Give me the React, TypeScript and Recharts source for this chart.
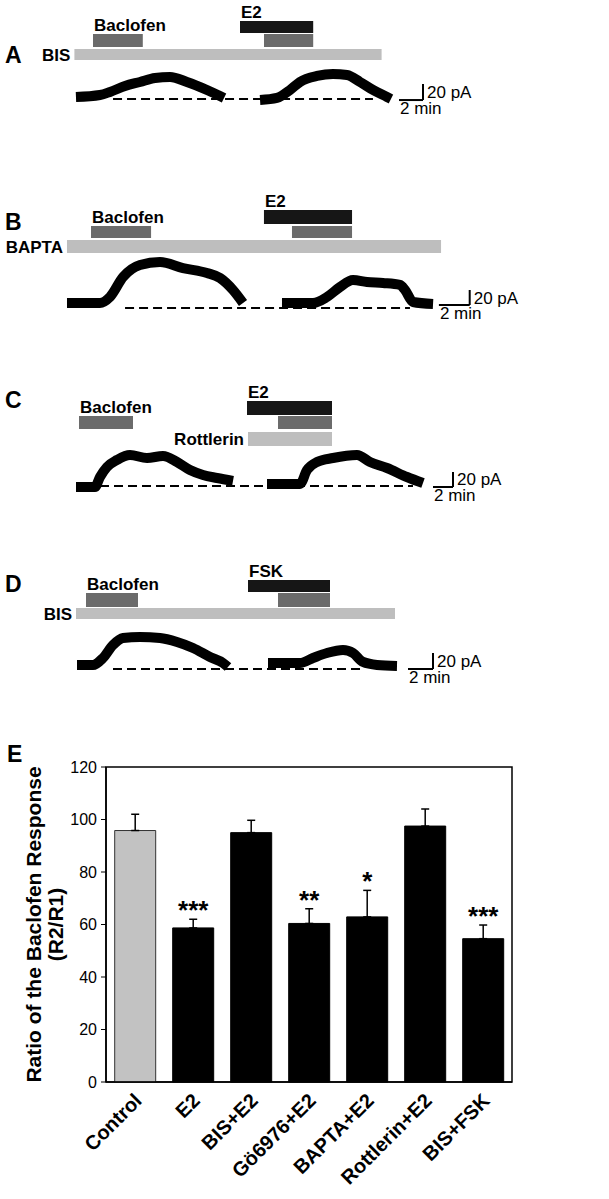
import React from 'react';
import {
  ComposedChart,
  Line,
  XAxis,
  YAxis,
  ReferenceArea,
  ReferenceLine,
  BarChart,
  Bar,
  Cell,
  ErrorBar,
  LabelList,
} from 'recharts';

const FONT = '"Liberation Sans", Arial, Helvetica, sans-serif';
const W = 609;

// ---- panel E: ratio of the baclofen response (R2/R1), mean + SEM ----
const groups = ['Control', 'E2', 'BIS+E2', 'Gö6976+E2', 'BAPTA+E2', 'Rottlerin+E2', 'BIS+FSK'];
const ratioMean = [95.8, 58.7, 95.0, 60.4, 62.9, 97.5, 54.6];
const ratioSem = [6.2, 3.3, 4.7, 5.6, 10.1, 6.5, 5.2];
const signif = ['', '***', '', '**', '*', '', '***'];
const ratioTicks = [0, 20, 40, 60, 80, 100, 120];

// ---- panels A-D: drug applications (min) and current traces [min, pA above baseline] ----
type Pair = [number, number];
type Drug = { name: string; start: number; end: number; row: number; tone: 'drug' | 'baclofen' | 'bath'; label: 'above' | 'left' | 'none' };

const drugsA: Drug[] = [
  { name: 'E2', start: 20.0, end: 26.1, row: 0, tone: 'drug', label: 'above' },
  { name: 'Baclofen', start: 7.75, end: 11.9, row: 1, tone: 'baclofen', label: 'above' },
  { name: 'Baclofen', start: 22.0, end: 26.1, row: 1, tone: 'baclofen', label: 'none' },
  { name: 'BIS', start: 6.2, end: 31.8, row: 2, tone: 'bath', label: 'left' },
];
const traceA1: Pair[] = [[6.33, 2.5], [8.33, 5], [9.17, 8.8], [10.42, 16.3], [11.67, 21.3], [12.92, 26.3], [14.17, 27.5], [15.58, 21.3], [17.25, 11.3], [18.33, 3.8], [18.67, 1.3]];
const traceA2: Pair[] = [[21.67, -1.3], [23.08, 1.3], [24.17, 11.3], [25.0, 21.3], [26.42, 28.8], [27.75, 31.3], [28.92, 30], [30.0, 21.3], [31.08, 11.3], [32.25, 2.5], [32.58, 0]];

const drugsB: Drug[] = [
  { name: 'E2', start: 17.14, end: 22.86, row: 0, tone: 'drug', label: 'above' },
  { name: 'Baclofen', start: 5.91, end: 9.81, row: 1, tone: 'baclofen', label: 'above' },
  { name: 'Baclofen', start: 18.96, end: 22.86, row: 1, tone: 'baclofen', label: 'none' },
  { name: 'BAPTA', start: 4.35, end: 28.64, row: 2, tone: 'bath', label: 'left' },
];
const traceB1: Pair[] = [[4.35, 6.7], [6.49, 6.7], [7.14, 14.7], [7.99, 41.3], [9.09, 57.3], [10.39, 61.3], [11.88, 53.3], [13.44, 46.7], [14.29, 40], [15.13, 24], [15.78, 6.7]];
const traceB2: Pair[] = [[18.31, 6.7], [20.32, 6.7], [21.23, 14.7], [22.08, 28], [22.92, 37.3], [23.83, 34.7], [24.87, 33.3], [25.97, 30.7], [26.3, 24], [26.82, 8], [28.12, 5.3]];

const drugsC: Drug[] = [
  { name: 'E2', start: 24.7, end: 33.2, row: 0, tone: 'drug', label: 'above' },
  { name: 'Baclofen', start: 7.9, end: 13.3, row: 1, tone: 'baclofen', label: 'above' },
  { name: 'Baclofen', start: 27.8, end: 33.2, row: 1, tone: 'baclofen', label: 'none' },
  { name: 'Rottlerin', start: 24.8, end: 33.2, row: 2, tone: 'bath', label: 'left' },
];
const traceC1: Pair[] = [[7.6, -1.3], [9.5, -1.3], [10.0, 12], [10.7, 25.3], [11.7, 34.7], [13.0, 41.3], [14.7, 37.3], [16.3, 40], [17.7, 32], [19.0, 21.3], [20.3, 14.7], [21.7, 10.7], [23.3, 6.7]];
const traceC2: Pair[] = [[26.7, 2.7], [30.0, 2.7], [30.7, 21.3], [31.7, 32], [33.3, 37.3], [35.7, 41.3], [37.0, 32], [38.7, 24], [40.7, 12], [42.3, 4]];

const drugsD: Drug[] = [
  { name: 'FSK', start: 19.84, end: 26.4, row: 0, tone: 'drug', label: 'above' },
  { name: 'Baclofen', start: 6.88, end: 11.04, row: 1, tone: 'baclofen', label: 'above' },
  { name: 'Baclofen', start: 22.24, end: 26.4, row: 1, tone: 'baclofen', label: 'none' },
  { name: 'BIS', start: 6.08, end: 31.6, row: 2, tone: 'bath', label: 'left' },
];
const traceD1: Pair[] = [[6.16, 5], [7.44, 5], [8.24, 13.8], [9.04, 30], [9.84, 38.8], [11.2, 40], [12.8, 38.8], [14.16, 33.8], [15.44, 26.3], [16.8, 15], [17.84, 7.5], [18.24, 2.5]];
const traceD2: Pair[] = [[21.44, 7.5], [24.0, 7.5], [25.04, 13.8], [26.16, 20], [27.44, 23.8], [28.24, 20], [29.04, 8.8], [30.16, 5], [31.76, 3.8]];

const SCALE_MIN = 2;
const SCALE_PA = 20;

const TONE = { drug: '#161616', baclofen: '#6b6b6b', bath: '#bebebe' };

type PanelCfg = {
  letter: string;
  top: number;
  height: number;
  baseY: number; // px of baseline inside the chart
  kx: number; // px per min
  ky: number; // px per pA
  rows: Pair[]; // px bands for drug rows
  drugs: Drug[];
  traces: Pair[][];
  dash: Pair;
  scaleAt: Pair;
  letterY: number;
};

const panels: PanelCfg[] = [
  { letter: 'A', top: 0, height: 125, baseY: 99, kx: 12, ky: 0.8, rows: [[21, 33], [34, 47], [49, 60]], drugs: drugsA, traces: [traceA1, traceA2], dash: [9.42, 31.08], scaleAt: [33.25, -1.3], letterY: 63 },
  { letter: 'B', top: 180, height: 150, baseY: 128, kx: 15.4, ky: 0.75, rows: [[30, 44], [46, 58], [60, 73]], drugs: drugsB, traces: [traceB1, traceB2], dash: [8.12, 26.62], scaleAt: [28.5, 4], letterY: 230 },
  { letter: 'C', top: 370, height: 140, baseY: 116, kx: 10, ky: 0.75, rows: [[31, 45], [46, 59], [62, 76]], drugs: drugsC, traces: [traceC1, traceC2], dash: [10.0, 41.3], scaleAt: [43.3, -1.3], letterY: 408 },
  { letter: 'D', top: 550, height: 145, baseY: 119, kx: 12.5, ky: 0.8, rows: [[30, 42], [43, 57], [58, 69]], drugs: drugsD, traces: [traceD1, traceD2], dash: [9.04, 29.04], scaleAt: [32.64, 0], letterY: 592 },
];

const DrugLabel = (props: any) => {
  const { viewBox, text, side } = props;
  if (!viewBox) return null;
  const { x, y, height } = viewBox;
  const common = { fontFamily: FONT, fontWeight: 'bold' as const, fontSize: 17, fill: '#000' };
  if (side === 'left') {
    return <text x={x - 4} y={y + height / 2 + 6} textAnchor="end" {...common}>{text}</text>;
  }
  return <text x={x + 1} y={y - 3} textAnchor="start" {...common}>{text}</text>;
};

const ScaleText = (props: any) => {
  const { viewBox, text, kind } = props;
  if (!viewBox) return null;
  const { x, y, height } = viewBox;
  const common = { fontFamily: FONT, fontSize: 17, fill: '#000' };
  if (kind === 'v') {
    return <text x={x + 4} y={y + height / 2 + 6} {...common}>{text}</text>;
  }
  return <text x={x + 1} y={y + 14} {...common}>{text}</text>;
};

const TracePanel = ({ cfg }: { cfg: PanelCfg }) => {
  const { top, height, baseY, kx, ky, rows, scaleAt } = cfg;
  const [sx, sy] = scaleAt;
  return (
    <div style={{ position: 'absolute', left: 0, top }}>
      <ComposedChart width={W} height={height} margin={{ top: 0, right: 0, bottom: 0, left: 0 }}>
        <XAxis type="number" dataKey="t" domain={[0, W / kx]} hide allowDataOverflow />
        <YAxis yAxisId="pA" type="number" domain={[-(height - baseY) / ky, baseY / ky]} hide allowDataOverflow />
        <YAxis yAxisId="row" type="number" domain={[0, height]} reversed hide allowDataOverflow />
        {cfg.drugs.map((d, i) => (
          <ReferenceArea
            key={`d${i}`}
            yAxisId="row"
            x1={d.start}
            x2={d.end}
            y1={rows[d.row][0]}
            y2={rows[d.row][1]}
            fill={TONE[d.tone]}
            fillOpacity={1}
            stroke="none"
            label={d.label === 'none' ? undefined : (p: any) => <DrugLabel {...p} text={d.name} side={d.label} />}
          />
        ))}
        <ReferenceLine
          yAxisId="pA"
          segment={[{ x: cfg.dash[0], y: 0 }, { x: cfg.dash[1], y: 0 }]}
          stroke="#000"
          strokeWidth={2}
          strokeDasharray="9 5"
        />
        {cfg.traces.map((tr, i) => (
          <Line
            key={`t${i}`}
            yAxisId="pA"
            data={tr.map(([t, v]) => ({ t, v }))}
            dataKey="v"
            type="monotone"
            stroke="#000"
            strokeWidth={10}
            dot={false}
            activeDot={false}
            isAnimationActive={false}
          />
        ))}
        <ReferenceLine
          yAxisId="pA"
          segment={[{ x: sx, y: sy }, { x: sx + SCALE_MIN, y: sy }]}
          stroke="#000"
          strokeWidth={2}
          label={(p: any) => <ScaleText {...p} text={`${SCALE_MIN} min`} kind="h" />}
        />
        <ReferenceLine
          yAxisId="pA"
          segment={[{ x: sx + SCALE_MIN, y: sy }, { x: sx + SCALE_MIN, y: sy + SCALE_PA }]}
          stroke="#000"
          strokeWidth={2}
          label={(p: any) => <ScaleText {...p} text={`${SCALE_PA} pA`} kind="v" />}
        />
      </ComposedChart>
    </div>
  );
};

const GroupTick = (props: any) => {
  const { x, y, payload } = props;
  const ax = x + 8;
  const ay = y + 12;
  return (
    <text x={ax} y={ay} transform={`rotate(-45 ${ax} ${ay})`} textAnchor="end" fontFamily={FONT} fontWeight="bold" fontSize={20} fill="#000">
      {payload.value}
    </text>
  );
};

const YTitle = (props: any) => {
  const vb = props.viewBox;
  const cy = vb && vb.height ? vb.y + vb.height / 2 : 234;
  const common = { fontFamily: FONT, fontWeight: 'bold' as const, fontSize: 21, fill: '#000', textAnchor: 'middle' as const };
  return (
    <g>
      <text transform={`translate(41 ${cy}) rotate(-90)`} {...common}>Ratio of the Baclofen Response</text>
      <text transform={`translate(63 ${cy}) rotate(-90)`} {...common}>(R2/R1)</text>
    </g>
  );
};

const Stars = (props: any) => {
  const { x, y, width, height, value, index } = props;
  if (!value) return null;
  const errPx = (ratioSem[index] / ratioMean[index]) * height;
  return (
    <text x={x + width / 2} y={y - errPx} textAnchor="middle" fontFamily={FONT} fontWeight="bold" fontSize={26} fill="#000">
      {value}
    </text>
  );
};

const RatioChart = () => {
  const data = groups.map((name, i) => ({ name, mean: ratioMean[i], err: [0, ratioSem[i]], sig: signif[i] }));
  return (
    <div style={{ position: 'absolute', left: 0, top: 690 }}>
      <BarChart width={W} height={509} data={data} margin={{ top: 77, right: 97, bottom: 0, left: 0 }} barCategoryGap="15%">
        <XAxis dataKey="name" height={117} interval={0} tickLine={false} axisLine={{ stroke: '#000', strokeWidth: 1.5 }} tick={<GroupTick />} />
        <YAxis
          width={106}
          domain={[0, 120]}
          ticks={ratioTicks}
          tickSize={5}
          tickMargin={4}
          axisLine={{ stroke: '#000', strokeWidth: 1.5 }}
          tickLine={{ stroke: '#000' }}
          tick={{ fontSize: 16, fill: '#000', fontFamily: FONT }}
          label={(p: any) => <YTitle {...p} />}
        />
        <ReferenceArea y1={0} y2={120} fill="none" fillOpacity={0} stroke="#000" strokeWidth={1.5} />
        <Bar dataKey="mean" isAnimationActive={false}>
          {data.map((d, i) => (
            <Cell key={d.name} fill={i === 0 ? '#c2c2c2' : '#000'} stroke={i === 0 ? '#333' : '#000'} strokeWidth={1} />
          ))}
          <ErrorBar dataKey="err" width={4} stroke="#000" strokeWidth={1.5} />
          <LabelList dataKey="sig" content={<Stars />} />
        </Bar>
      </BarChart>
    </div>
  );
};

const letterStyle = { fontFamily: FONT, fontWeight: 'bold' as const, fontSize: 23, fill: '#000' };

export default function App() {
  return (
    <div style={{ position: 'absolute', left: 0, top: 0, width: W, height: 1199, background: '#fff', fontFamily: FONT }}>
      {panels.map((p) => (
        <TracePanel key={p.letter} cfg={p} />
      ))}
      <RatioChart />
      <svg width={W} height={1199} style={{ position: 'absolute', left: 0, top: 0, pointerEvents: 'none' }}>
        {panels.map((p) => (
          <text key={p.letter} x={5} y={p.letterY} {...letterStyle}>{p.letter}</text>
        ))}
        <text x={7} y={762} {...letterStyle}>E</text>
      </svg>
    </div>
  );
}
